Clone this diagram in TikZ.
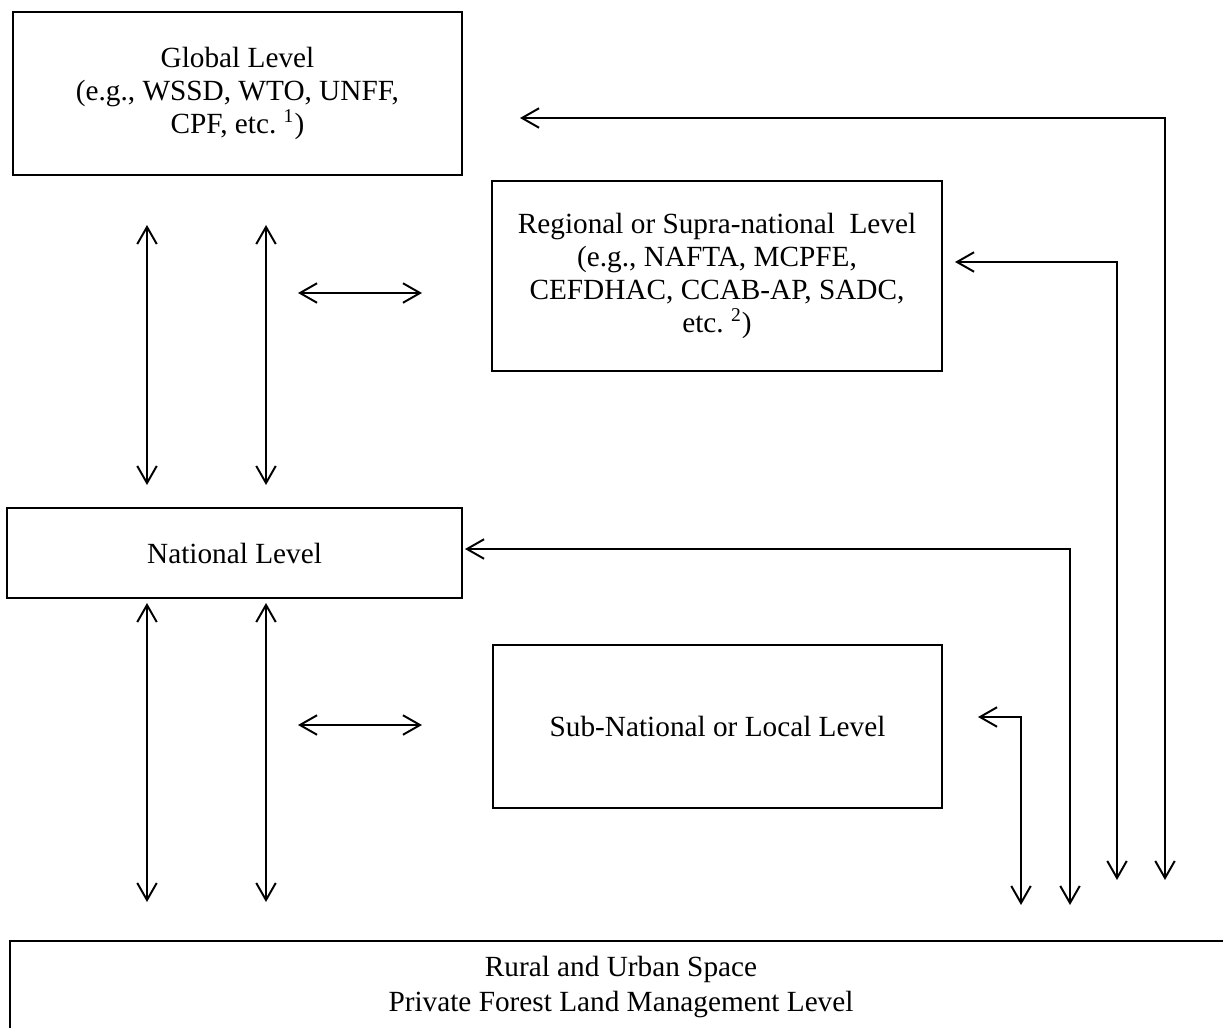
\documentclass[tikz,border=0pt]{standalone}
\usepackage{fontspec}
\setmainfont{Liberation Serif}
\usetikzlibrary{arrows.meta}

\begin{document}
\begin{tikzpicture}[x=0.41pt, y=-0.41pt, >={Straight Barb[length=7pt,width=8pt]},
        level/.style={draw, rectangle, line width=0.8pt, align=center, inner sep=0pt, font=\fontsize{12}{13.5}\selectfont},
        link/.style={<->, line width=0.8pt}]
        \clip (0,0) rectangle (1223,1027);
        % Levels
        \node[level, minimum width=184pt, minimum height=67pt] (glob) at (237.5,93.5) {Global Level\\(e.g., WSSD, WTO, UNFF,\\CPF, etc.\ \textsuperscript{1})};
        \node[level, minimum width=184.5pt, minimum height=78pt] (reg) at (717,276) {Regional or Supra-national\ \ Level\\(e.g., NAFTA, MCPFE,\\CEFDHAC, CCAB-AP, SADC,\\etc.\ \textsuperscript{2})};
        \node[level, minimum width=186.6pt, minimum height=37pt] (nat) at (234.5,553) {National Level};
        \node[level, minimum width=184pt, minimum height=67pt] (sub) at (717.5,726.5) {Sub-National or Local Level};
        \node[level, minimum width=501pt, minimum height=37.7pt, font=\fontsize{12}{14.4}\selectfont] (land) at (621,987) {Rural and Urban Space\\Private Forest Land Management Level};
        
        % Free ends of the links
        \coordinate (gn1t) at (147,225); \coordinate (gn1b) at (147,485);
        \coordinate (gn2t) at (266,225); \coordinate (gn2b) at (266,485);
        \coordinate (grl) at (298,293); \coordinate (grr) at (422,293);
        \coordinate (nl1t) at (147,603); \coordinate (nl1b) at (147,902);
        \coordinate (nl2t) at (266,603); \coordinate (nl2b) at (266,902);
        \coordinate (nsl) at (298,725); \coordinate (nsr) at (422,725);
        
        % Links between levels
        \draw[link] (gn1t) -- (gn1b);
        \draw[link] (gn2t) -- (gn2b);
        \draw[link] (grl) -- (grr);
        \draw[link] (nl1t) -- (nl1b);
        \draw[link] (nl2t) -- (nl2b);
        \draw[link] (nsl) -- (nsr);
        
        % Links from the land level
        \coordinate (globin) at (520,118); \coordinate (globout) at (1165,880);
        \coordinate (regin) at (955,262); \coordinate (regout) at (1117,880);
        \coordinate (natin) at (465,549); \coordinate (natout) at (1070,905);
        \coordinate (subin) at (978,717); \coordinate (subout) at (1021,905);
        \draw[link] (globin) -| (globout);
        \draw[link] (regin) -| (regout);
        \draw[link] (natin) -| (natout);
        \draw[link] (subin) -| (subout);
    \end{tikzpicture}
\end{document}
